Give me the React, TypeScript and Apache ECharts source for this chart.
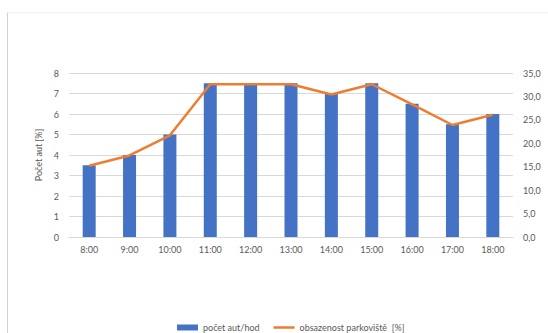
import React, { useEffect, useRef } from "react";
import * as echarts from "echarts";

const hours = ["8:00", "9:00", "10:00", "11:00", "12:00", "13:00", "14:00", "15:00", "16:00", "17:00", "18:00"];
const carsPerHour = [3.5, 4, 5, 7.5, 7.5, 7.5, 7, 7.5, 6.5, 5.5, 6];
const occupancy = [15.2, 17.4, 21.7, 32.6, 32.6, 32.6, 30.4, 32.6, 28.3, 23.9, 26.1];
const leftTicks = { min: 0, max: 8, interval: 1 };
const rightTicks = { min: 0, max: 35, interval: 5 };

const FONT = "Lato, 'Open Sans', sans-serif";
const TEXT = "#595959";
const GRID = "#d9d9d9";

export default function App() {
  const ref = useRef<HTMLDivElement>(null);

  useEffect(() => {
    if (!ref.current) return;
    const chart = echarts.init(ref.current, null, { renderer: "svg" });
    chart.setOption({
      animation: false,
      backgroundColor: "#ffffff",
      textStyle: { fontFamily: FONT, color: TEXT },
      grid: { left: 69, right: 35, top: 73, bottom: 96, containLabel: false, outerBoundsMode: "none" },
      legend: {
        left: 172,
        top: 318,
        itemGap: 14,
        itemWidth: 21,
        itemHeight: 6,
        symbolKeepAspect: true,
        textStyle: { fontFamily: FONT, fontSize: 9, color: TEXT },
        data: [
          { name: "počet aut/hod", icon: "rect" },
          { name: "obsazenost parkoviště  [%]", icon: "path://M0,0h21v2.5h-21z" },
        ],
      },
      xAxis: {
        type: "category",
        data: hours,
        axisLine: { lineStyle: { color: GRID } },
        axisTick: { show: false },
        axisLabel: { fontFamily: FONT, fontSize: 9, color: TEXT, margin: 8 },
      },
      yAxis: [
        {
          type: "value",
          ...leftTicks,
          name: "Počet aut [%]",
          nameLocation: "middle",
          nameRotate: 90,
          nameGap: 20,
          nameTextStyle: { fontFamily: FONT, fontSize: 9, color: TEXT },
          axisLine: { show: false },
          axisTick: { show: false },
          axisLabel: { fontFamily: FONT, fontSize: 9, color: TEXT, margin: 10 },
          splitLine: { lineStyle: { color: GRID } },
        },
        {
          type: "value",
          ...rightTicks,
          position: "right",
          name: "Obsazenost [%]",
          nameLocation: "middle",
          nameRotate: 90,
          nameGap: 35,
          nameTextStyle: { fontFamily: FONT, fontSize: 9, color: TEXT },
          axisLine: { show: false },
          axisTick: { show: false },
          axisLabel: {
            fontFamily: FONT,
            fontSize: 9,
            color: TEXT,
            margin: 10,
            formatter: (v: number) => v.toFixed(1).replace(".", ","),
          },
          splitLine: { show: false },
        },
      ],
      series: [
        {
          name: "počet aut/hod",
          type: "bar",
          data: carsPerHour,
          barWidth: 13,
          itemStyle: { color: "#4472C4" },
        },
        {
          name: "obsazenost parkoviště  [%]",
          type: "line",
          yAxisIndex: 1,
          data: occupancy,
          symbol: "none",
          lineStyle: { color: "#ED7D31", width: 2.5 },
          itemStyle: { color: "#ED7D31" },
        },
      ],
      graphic: [
        { type: "line", shape: { x1: 7.5, y1: 12, x2: 7.5, y2: 333 }, style: { stroke: "#d0d0d0", lineWidth: 1 } },
        { type: "line", shape: { x1: 7, y1: 12.5, x2: 548, y2: 12.5 }, style: { stroke: "#f0f0f0", lineWidth: 1 } },
      ],
    });
    return () => chart.dispose();
  }, []);

  return (
    <div
      ref={ref}
      style={{ position: "fixed", left: 0, top: 0, width: 548, height: 333 }}
    />
  );
}
